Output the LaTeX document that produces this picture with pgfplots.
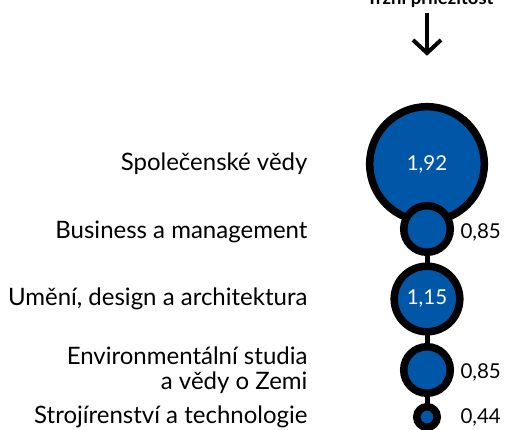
\documentclass[border=0pt]{standalone}
\usepackage{fontspec}
\setmainfont{Lato}
\usepackage{pgfplots}
\pgfplotsset{compat=1.18}
\definecolor{cblue}{RGB}{0,87,168}

\begin{document}
\begin{tikzpicture}
\useasboundingbox (0,0) rectangle (507pt,430pt);
\clip (0,0) rectangle (507pt,430pt);
\begin{axis}[
    at={(0,0)}, anchor=south west,
    scale only axis,
    width=507pt, height=430pt,
    xmin=0, xmax=507,
    ymin=0, ymax=430,
    y dir=reverse,
    hide axis,
    clip=false,
]
% connecting line
\addplot[black, line width=5pt, no marks] coordinates {(427,164) (427,417)};
% bubbles, radius proportional to value
\addplot[
    scatter, only marks, mark=*,
    visualization depends on={value \thisrow{v} \as \val},
    scatter/@pre marker code/.code={%
        \pgfmathsetmacro\rad{\val*31.8-3.75}%
        \begin{scope}[mark size=\rad pt, line width=7.5pt, draw=black, fill=cblue]%
    },
    scatter/@post marker code/.code={\end{scope}},
] table[x=x, y=y] {
x   y   v
427 164 1.92
427 229 0.85
427 299 1.15
427 370 0.85
427 417 0.44
};
\coordinate (a) at (axis cs:427,164);
\coordinate (c) at (axis cs:427,299);
% category labels
\begin{scope}[every node/.style={font=\fontsize{24}{25}\selectfont, anchor=east, text=black}]
\node at (axis cs:311,164) {Společenské vědy};
\node at (axis cs:311,232) {Business a management};
\node at (axis cs:311,299) {Umění, design a architektura};
\node[align=right] at (axis cs:311,370) {Environmentální studia\\a vědy o Zemi};
\node at (axis cs:311,417) {Strojírenství a technologie};
\end{scope}
% value labels outside
\begin{scope}[every node/.style={font=\fontsize{20.5}{22}\selectfont, anchor=west}]
\node at (axis cs:457,232) {0,85};
\node at (axis cs:457,372) {0,85};
\node at (axis cs:457,417) {0,44};
\end{scope}
% header (cut off at the top, as in the source) and arrow
\node[anchor=base, font=\bfseries\fontsize{18.5}{20}\selectfont] at (axis cs:430,4.5) {Tržní příležitost};
\draw[line width=4pt] (axis cs:427,13) -- (axis cs:427,51);
\draw[line width=4pt, line join=miter] (axis cs:413,40) -- (axis cs:427,53) -- (axis cs:441,40);
\end{axis}
% value labels inside the bubbles
\node[text=white, font=\fontsize{20.5}{22}\selectfont] at (a) {1,92};
\node[text=white, font=\fontsize{20.5}{22}\selectfont] at (c) {1,15};
\end{tikzpicture}
\end{document}
